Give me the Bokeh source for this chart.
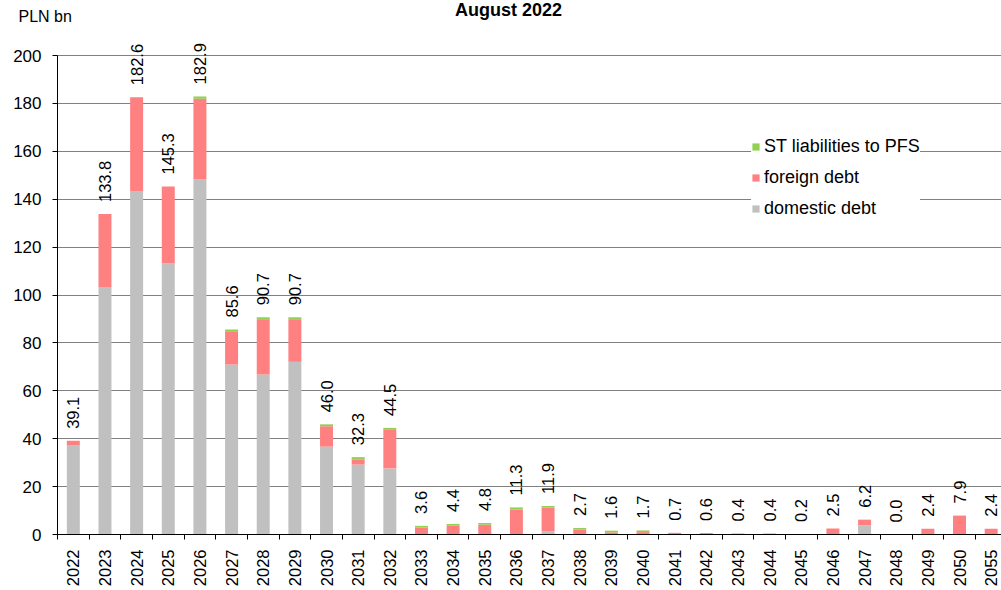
import math
from bokeh.plotting import figure
from bokeh.models import (ColumnDataSource, FixedTicker, Range1d, Legend,
                          LegendItem, Label)
from bokeh.embed import file_html
from bokeh.resources import INLINE

years = ["2022", "2023", "2024", "2025", "2026", "2027", "2028", "2029", "2030",
         "2031", "2032", "2033", "2034", "2035", "2036", "2037", "2038", "2039",
         "2040", "2041", "2042", "2043", "2044", "2045", "2046", "2047", "2048",
         "2049", "2050", "2055"]
domestic = [37.2, 103.3, 143.2, 113.2, 148.2, 71.0, 66.8, 72.1, 36.7, 29.2, 27.6,
            0.0, 0.0, 0.0, 0.0, 1.4, 0.0, 0.0, 0.0, 0.0, 0.0, 0.0, 0.0, 0.0, 0.0,
            3.8, 0.0, 0.0, 0.0, 0.0]
foreign = [1.9, 30.5, 39.4, 32.1, 33.7, 13.9, 23.1, 17.8, 8.5, 2.2, 16.1,
           2.9, 3.8, 4.1, 10.4, 9.9, 2.0, 0.9, 1.0, 0.7, 0.6, 0.4, 0.4, 0.2, 2.5,
           2.4, 0.0, 2.4, 7.9, 2.4]
st_pfs = [0.0, 0.0, 0.0, 0.0, 1.0, 0.7, 0.8, 0.8, 0.8, 0.9, 0.8,
          0.7, 0.6, 0.7, 0.9, 0.6, 0.7, 0.7, 0.7, 0.0, 0.0, 0.0, 0.0, 0.0, 0.0,
          0.0, 0.0, 0.0, 0.0, 0.0]
totals = [39.1, 133.8, 182.6, 145.3, 182.9, 85.6, 90.7, 90.7, 46.0, 32.3, 44.5,
          3.6, 4.4, 4.8, 11.3, 11.9, 2.7, 1.6, 1.7, 0.7, 0.6, 0.4, 0.4, 0.2, 2.5,
          6.2, 0.0, 2.4, 7.9, 2.4]
y_ticks = [0, 20, 40, 60, 80, 100, 120, 140, 160, 180, 200]

FONT = "Liberation Sans"
FS_ROT = "16.5px"
FS_H = "17px"
C_DOM = "#C0C0C0"
C_FOR = "#FF8080"
C_ST = "#92D050"

# layout geometry (pixels): axes cross 57px from the left and 534px from the top
W, H = 1001, 590
AX_LEFT, TOP200, BOTTOM0 = 57, 55, 534
CAT_PX = 31.65
PX_PER_UNIT = (BOTTOM0 - TOP200) / 200.0

n = len(years)
idx = list(range(n))
x_start = -0.5 - AX_LEFT / CAT_PX
x_end = -0.5 + (W - AX_LEFT) / CAT_PX
y_start = -(H - BOTTOM0) / PX_PER_UNIT
y_end = 200 + TOP200 / PX_PER_UNIT

src = ColumnDataSource(dict(x=idx, domestic=domestic, foreign=foreign, st=st_pfs))

p = figure(width=W, height=H,
           x_range=Range1d(x_start, x_end), y_range=Range1d(y_start, y_end),
           output_backend="svg", toolbar_location=None,
           min_border_left=0, min_border_right=0,
           min_border_top=0, min_border_bottom=0)
p.outline_line_color = None
p.background_fill_color = "white"
p.border_fill_color = "white"

# grid lines (only across the plot area, right of the y axis)
g = p.ygrid[0]
g.ticker = FixedTicker(ticks=y_ticks[1:])
g.grid_line_color = "black"
g.grid_line_dash = "1 1"
g.grid_line_width = 1
if "cross_bounds" in g.properties():
    g.cross_bounds = (-0.5, x_end)
else:
    g.grid_line_color = None
    p.segment(x0=[-0.5] * (len(y_ticks) - 1), x1=[x_end] * (len(y_ticks) - 1),
              y0=y_ticks[1:], y1=y_ticks[1:], line_color="black",
              line_dash="1 1", line_width=1)
p.xgrid.grid_line_color = None

rs = p.vbar_stack(["domestic", "foreign", "st"], x="x", width=0.41,
                  source=src, color=[C_DOM, C_FOR, C_ST], line_color=None)

# value labels above stacks
for i, tot in zip(idx, totals):
    p.add_layout(Label(x=i, y=tot, text=f"{tot:.1f}", angle=math.pi / 2,
                       text_align="left", text_baseline="middle",
                       y_offset=12, text_font=FONT, text_font_size=FS_ROT,
                       text_color="black"))

# x axis drawn at y = 0
xa = p.xaxis[0]
xa.fixed_location = 0
xa.ticker = FixedTicker(ticks=idx, minor_ticks=[i - 0.5 for i in range(n + 1)])
xa.major_label_overrides = {i: y for i, y in zip(idx, years)}
xa.major_label_orientation = math.pi / 2
xa.bounds = (-0.5, n - 0.5)
xa.major_tick_line_color = None
xa.major_tick_out = 0
xa.major_tick_in = 0
xa.minor_tick_out = 5
xa.minor_tick_in = 0
xa.minor_tick_line_color = "black"
xa.major_label_standoff = 10
xa.major_label_text_font = FONT
xa.major_label_text_font_size = FS_ROT
xa.major_label_text_color = "black"
xa.axis_line_color = "black"

# y axis drawn at the left edge of the category area
ya = p.yaxis[0]
ya.fixed_location = -0.5
ya.bounds = (0, 200)
ya.ticker = FixedTicker(ticks=y_ticks, minor_ticks=[])
ya.major_tick_out = 5
ya.major_tick_in = 0
ya.major_tick_line_color = "black"
ya.minor_tick_line_color = None
ya.major_label_standoff = 11
ya.major_label_text_font = FONT
ya.major_label_text_font_size = FS_H
ya.major_label_text_color = "black"
ya.axis_line_color = "black"

legend = Legend(items=[
    LegendItem(label="ST liabilities to PFS", renderers=[rs[2]]),
    LegendItem(label="foreign debt", renderers=[rs[1]]),
    LegendItem(label="domestic debt", renderers=[rs[0]]),
], location=(751, 371))
legend.border_line_color = None
legend.background_fill_color = "white"
legend.background_fill_alpha = 1.0
legend.label_text_font = FONT
legend.label_text_font_size = "18px"
legend.label_text_color = "black"
legend.glyph_width = 9
legend.glyph_height = 9
legend.label_standoff = 4
legend.label_height = 20
legend.spacing = 10
legend.padding = 12
legend.margin = 0
p.add_layout(legend, "center")

p.add_layout(Label(x=18, y=H - 16, x_units="screen", y_units="screen",
                   text="PLN bn", text_font=FONT, text_font_size="16px",
                   text_align="left", text_baseline="alphabetic",
                   text_color="black"))
p.add_layout(Label(x=508, y=H - 9, x_units="screen", y_units="screen",
                   text="August 2022", text_font=FONT, text_font_size="18px",
                   text_font_style="bold", text_align="center",
                   text_baseline="alphabetic", text_color="black"))

open("out.html", "w").write(file_html(p, INLINE))
